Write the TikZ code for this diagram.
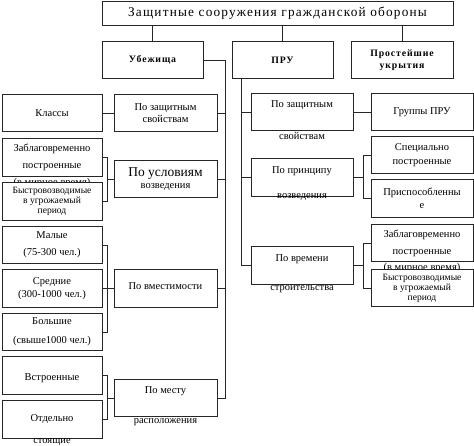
\documentclass[tikz,border=0pt]{standalone}
\usepackage{fontspec}
\setmainfont{Liberation Serif}
\newfontfamily\spacedfont[LetterSpace=9]{Liberation Serif}

\tikzset{
  box/.style={draw=black!85, line width=0.75pt, fill=white, inner sep=1pt, align=center, minimum height=37.5pt, font=\fontsize{10.5}{12.5}\selectfont},
  lbox/.style={box, minimum width=100pt},
  mbox/.style={box, minimum width=103pt},
  rbox/.style={box, minimum width=102pt},
  head/.style={box, minimum width=101pt, font=\spacedfont\bfseries\fontsize{9.8}{12}\selectfont},
  lbl/.style={inner sep=1pt, font=\fontsize{10.5}{12.5}\selectfont},
  small/.style={font=\fontsize{9.6}{10}\selectfont},
  conn/.style={draw=black!85, line width=0.75pt},
}

\begin{document}
\begin{tikzpicture}[x=1pt, y=-1pt]
\useasboundingbox (0,0) rectangle (474,446);

% top level
\node[box, minimum width=351pt, minimum height=24pt, font=\spacedfont\fontsize{13.3}{15}\selectfont] (title) at (277.5,13) {Защитные сооружения гражданской обороны};
\node[head] (ub) at (152.5,60) {Убежища};
\node[head] (pru) at (282.5,60) {ПРУ};
\node[head, minimum width=102pt] (prost) at (402,60) {Простейшие\\укрытия};

% Убежища
\node[mbox] (pzs) at (165.5,113) {По защитным\\свойствам};
\node[mbox] (puv) at (165.5,179) {{\fontsize{13.5}{12}\selectfont По условиям}\\возведения};
\node[mbox] (pvm) at (165.5,288.5) {\raisebox{4pt}{По вместимости}};
\node[mbox, label={[lbl]below:расположения}] (pmr) at (165.5,398) {\raisebox{15pt}{По месту}};

\node[lbox] (kl) at (52,113) {Классы};
\node[lbox, label={[lbl]below:(в мирное время)}] (zab) at (52,157.5) {Заблаговременно\\[4.5pt]построенные};
\node[lbox, small] (byst) at (52,201.5) {Быстровозводимые\\в угрожаемый\\период};
\node[lbox] (mal) at (52,245) {Малые\\[4.5pt](75-300 чел.)};
\node[lbox] (sred) at (52,288.5) {Средние\\[0.5pt](300-1000 чел.)};
\node[lbox] (bol) at (52,332) {Большие\\[6.5pt](свыше1000 чел.)};
\node[lbox] (vstr) at (52,375.5) {\raisebox{-13pt}{Встроенные}};
\node[lbox, label={[lbl, anchor=center, yshift=-3pt]below:стоящие}] (otd) at (52,419.5) {Отдельно};

% ПРУ
\node[rbox, label={[lbl]below:свойствам}] (rpz) at (302,112) {\raisebox{15pt}{По защитным}};
\node[rbox, label={[lbl, anchor=center]below:возведения}] (rpp) at (302,177.5) {\raisebox{15pt}{По принципу}};
\node[rbox, label={[lbl]below:строительства}] (rpv) at (302,265.5) {\raisebox{15pt}{По времени}};

\node[rbox] (grp) at (422,112) {Группы ПРУ};
\node[rbox] (spec) at (422,155) {Специально\\[1.5pt]построенные};
\node[rbox] (prisp) at (422,198.5) {Приспособленны\\е};
\node[rbox, label={[lbl]below:(в мирное время)}] (rzab) at (422,243) {Заблаговременно\\[4.5pt]построенные};
\node[rbox, small] (rbyst) at (422,288) {Быстровозводимые\\в угрожаемый\\период};

% trunks and brackets
\coordinate (ut) at (225,60);
\coordinate (pt) at (241,79);
\coordinate (lbx) at (107,0);
\coordinate (rbx) at (363,0);

\foreach \n in {ub,pru,prost} \draw[conn] (title.south -| \n.north) -- (\n.north);

\draw[conn] (ub.east) -- (ut) -- (ut |- pmr.east) -- (pmr.east);
\foreach \n in {pzs,puv,pvm} \draw[conn] (\n.east) -- (\n.east -| ut);

\draw[conn] (kl.east) -- (pzs.west);
\draw[conn] (zab.east) -| (lbx |- byst.east) -- (byst.east);
\draw[conn] (puv.west) -- (puv.west -| lbx);
\draw[conn] (mal.east) -| (lbx |- bol.east) -- (bol.east);
\draw[conn] (sred.east) -- (pvm.west);
\draw[conn] (vstr.east) -| (lbx |- otd.east) -- (otd.east);
\draw[conn] (pmr.west) -- (pmr.west -| lbx);

\draw[conn] (pt) -- (pt |- rpv.west) -- (rpv.west);
\foreach \n in {rpz,rpp} \draw[conn] (\n.west) -- (\n.west -| pt);

\draw[conn] (rpz.east) -- (grp.west);
\draw[conn] (spec.west) -| (rbx |- prisp.west) -- (prisp.west);
\draw[conn] (rpp.east) -- (rpp.east -| rbx);
\draw[conn] (rzab.west) -| (rbx |- rbyst.west) -- (rbyst.west);
\draw[conn] (rpv.east) -- (rpv.east -| rbx);
\end{tikzpicture}
\end{document}
